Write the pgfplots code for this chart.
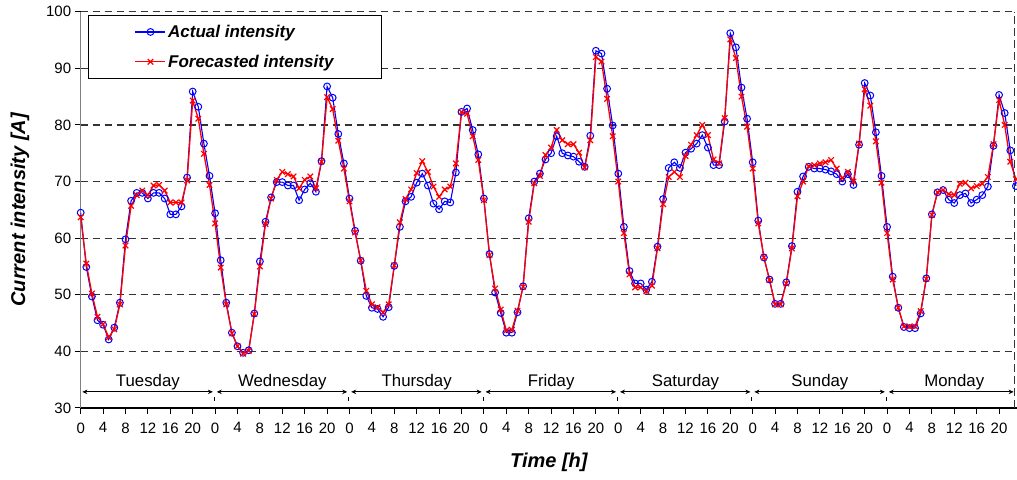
\documentclass[border=0pt]{standalone}
\usepackage{fontspec}
\setmainfont{Liberation Sans}
\usepackage{pgfplots}
\pgfplotsset{compat=1.18}
\usepackage{pgfplotstable}
\usetikzlibrary{arrows.meta}

\pgfplotstableread{
t act fc
0 64.5 63.7
1 54.9 55.5
2 49.7 50.2
3 45.5 46.1
4 44.7 44.8
5 42.1 42.5
6 44.2 43.9
7 48.6 48.3
8 59.8 58.7
9 66.6 65.7
10 68.0 67.6
11 68.0 68.4
12 67.0 67.6
13 68.0 69.3
14 68.0 69.4
15 67.0 68.4
16 64.2 66.3
17 64.2 66.3
18 65.6 66.3
19 70.7 70.2
20 85.9 84.3
21 83.2 81.1
22 76.7 74.9
23 71.0 69.4
24 64.4 62.6
25 56.1 54.8
26 48.6 48.3
27 43.3 43.2
28 40.9 40.9
29 39.75 39.6
30 40.2 40.1
31 46.7 46.6
32 55.9 55.0
33 62.9 62.5
34 67.2 67.0
35 69.9 70.3
36 69.9 71.7
37 69.3 71.3
38 69.3 70.9
39 66.7 68.8
40 68.6 70.3
41 69.7 70.9
42 68.2 68.8
43 73.6 73.5
44 86.8 84.9
45 84.8 82.8
46 78.4 77.2
47 73.2 72.3
48 67.0 66.5
49 61.3 61.0
50 56.0 56.1
51 49.8 50.7
52 47.7 48.3
53 47.5 47.8
54 46.1 46.9
55 47.8 48.3
56 55.1 55.2
57 62.0 62.8
58 66.5 66.9
59 67.3 68.6
60 69.8 71.5
61 71.4 73.6
62 69.3 71.7
63 66.1 69.1
64 65.1 67.3
65 66.5 68.6
66 66.3 69.1
67 71.6 73.2
68 82.3 82.3
69 82.9 82.0
70 79.1 78.0
71 74.8 73.8
72 67.0 66.7
73 57.2 57.0
74 50.4 51.1
75 46.8 47.4
76 43.3 43.7
77 43.3 43.8
78 46.9 47.2
79 51.5 51.4
80 63.5 62.9
81 70.0 69.7
82 71.4 71.0
83 73.9 74.7
84 75.0 76.0
85 78.0 79.1
86 75.0 77.3
87 74.6 76.6
88 74.4 76.6
89 73.5 75.1
90 72.6 72.5
91 78.1 77.3
92 93.1 92.0
93 92.6 91.2
94 86.4 84.6
95 79.9 78.0
96 71.4 70.0
97 62.0 60.9
98 54.2 53.6
99 52.0 51.3
100 52.0 51.3
101 50.9 50.6
102 52.3 51.6
103 58.5 58.2
104 66.9 66.0
105 72.4 70.8
106 73.4 71.7
107 72.4 70.8
108 75.1 74.5
109 75.8 76.5
110 76.7 78.2
111 78.2 80.0
112 76.0 78.2
113 72.9 73.9
114 72.9 73.2
115 80.6 81.2
116 96.2 95.1
117 93.7 91.8
118 86.6 85.0
119 81.1 79.7
120 73.4 72.3
121 63.1 62.6
122 56.6 56.6
123 52.7 52.6
124 48.4 48.3
125 48.4 48.3
126 52.2 52.0
127 58.6 58.2
128 68.2 67.4
129 70.9 70.0
130 72.6 72.7
131 72.3 72.9
132 72.3 73.2
133 72.1 73.4
134 71.8 73.8
135 71.3 72.3
136 70.0 70.6
137 71.3 71.7
138 69.4 70.0
139 76.5 76.7
140 87.4 86.3
141 85.2 83.4
142 78.7 77.1
143 71.0 69.8
144 62.0 60.9
145 53.2 52.7
146 47.7 47.7
147 44.3 44.4
148 44.1 44.4
149 44.1 44.4
150 46.7 47.1
151 52.9 52.8
152 64.2 64.1
153 68.1 68.1
154 68.5 68.5
155 66.8 67.8
156 66.2 67.6
157 67.6 69.6
158 67.9 69.8
159 66.2 68.8
160 66.8 69.2
161 67.6 69.6
162 69.1 70.8
163 76.3 76.6
164 85.3 84.4
165 82.1 80.0
166 75.5 73.5
167 69.2 70.4
}\datatable

\begin{document}
\begin{tikzpicture}
\begin{axis}[
  scale only axis,
  width=936.3pt, height=396.3pt,
  xmin=0, xmax=167.2, ymin=30, ymax=100,
  axis lines=left,
  x axis line style={black, line width=1.1pt, -},
  y axis line style={black!50, line width=1.4pt, -},
  tick align=outside, major tick length=6pt,
  tick style={black, line width=1pt},
  xtick={0,4,...,164},
  xticklabels={0,4,8,12,16,20,0,4,8,12,16,20,0,4,8,12,16,20,0,4,8,12,16,20,0,4,8,12,16,20,0,4,8,12,16,20,0,4,8,12,16,20},
  ytick={30,40,...,100},
  ymajorgrids,
  grid style={black!80, line width=1.3pt, dash pattern=on 7.5pt off 4.5pt},
  /pgf/number format/assume math mode=true,
  ticklabel style={font=\fontsize{15}{18}\selectfont},
  xticklabel style={yshift=-5pt},
  xlabel={Time [h]},
  ylabel={Current intensity [A]},
  xlabel style={font=\fontsize{20}{24}\selectfont\bfseries\itshape, at={(axis description cs:0.5,-0.1363)}, anchor=center},
  ylabel style={font=\fontsize{20}{24}\selectfont\bfseries\itshape, at={(axis description cs:-0.0648,0.5)}, anchor=center},
  legend style={at={(rel axis cs:0,1)}, anchor=north west, xshift=7.6pt, yshift=-3.3pt,
    draw=black, line width=1.1pt, fill=white, inner xsep=46pt, inner ysep=7.5pt,
    font=\fontsize{17}{20}\selectfont\bfseries\itshape, row sep=12pt,
    cells={anchor=west}},
  legend image code/.code={\draw[mark repeat=2,mark phase=2,#1] plot coordinates {(0pt,0pt) (15pt,0pt) (30pt,0pt)};},
]
\addplot[blue, line width=1.1pt, mark=o, mark size=3.4pt, mark options={solid, line width=1pt}] table[x=t,y=act]{\datatable};
\addlegendentry{Actual intensity}
\addplot[red, line width=1.3pt, mark=x, mark size=3.9pt, mark options={solid, line width=1.2pt}] table[x=t,y=fc]{\datatable};
\addlegendentry{Forecasted intensity}

\draw[black!80, line width=1.3pt, dash pattern=on 7.5pt off 4.5pt] (axis cs:166.75,30) -- (axis cs:166.75,100);

\tikzset{dayarr/.style={{Stealth[length=5pt,width=4.5pt]}-{Stealth[length=5pt,width=4.5pt]}, line width=0.9pt, black}}
\tikzset{daysep/.style={line width=1pt, black}}
\tikzset{dayname/.style={font=\fontsize{16.8}{20}\selectfont, anchor=center}}
\draw[dayarr] (axis cs:0.3,32.85) -- (axis cs:23.6,32.85);
\draw[dayarr] (axis cs:24.3,32.85) -- (axis cs:47.6,32.85);
\draw[dayarr] (axis cs:48.3,32.85) -- (axis cs:71.6,32.85);
\draw[dayarr] (axis cs:72.3,32.85) -- (axis cs:95.6,32.85);
\draw[dayarr] (axis cs:96.3,32.85) -- (axis cs:119.6,32.85);
\draw[dayarr] (axis cs:120.3,32.85) -- (axis cs:143.6,32.85);
\draw[dayarr] (axis cs:144.3,32.85) -- (axis cs:166.6,32.85);
\draw[daysep] (axis cs:23.85,31.25) -- (axis cs:23.85,31.95);
\draw[daysep] (axis cs:47.85,31.25) -- (axis cs:47.85,31.95);
\draw[daysep] (axis cs:71.85,31.25) -- (axis cs:71.85,31.95);
\draw[daysep] (axis cs:95.85,31.25) -- (axis cs:95.85,31.95);
\draw[daysep] (axis cs:119.85,31.25) -- (axis cs:119.85,31.95);
\draw[daysep] (axis cs:143.85,31.25) -- (axis cs:143.85,31.95);
\node[dayname] at (axis cs:12,34.6) {Tuesday};
\node[dayname] at (axis cs:36,34.6) {Wednesday};
\node[dayname] at (axis cs:60,34.6) {Thursday};
\node[dayname] at (axis cs:84,34.6) {Friday};
\node[dayname] at (axis cs:108,34.6) {Saturday};
\node[dayname] at (axis cs:132,34.6) {Sunday};
\node[dayname] at (axis cs:156,34.6) {Monday};
\end{axis}
\pgfresetboundingbox
\path (current axis.south west) ++(-80.7pt,-72pt) coordinate (bl);
\path (current axis.north east) ++(0pt,11.7pt) coordinate (tr);
\useasboundingbox (bl) rectangle (tr);
\end{tikzpicture}
\end{document}
